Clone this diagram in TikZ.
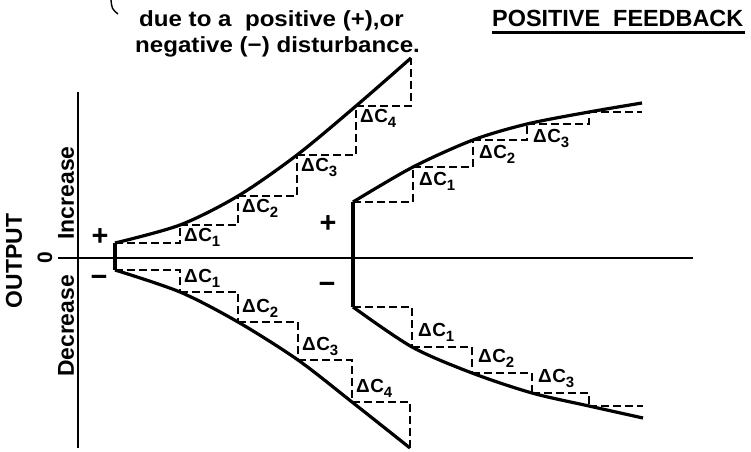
\documentclass[tikz,border=0pt]{standalone}
\usepackage{fontspec}
\setmainfont{Liberation Sans}
\newfontfamily\notefont[FakeStretch=1.1]{Liberation Sans}
\usetikzlibrary{positioning}

\newcommand{\dC}[1]{Δ\kern.5bp C\raisebox{-5bp}{\fontsize{15}{15}\selectfont #1}}

\tikzset{
  axisline/.style={line width=2.4bp},
  barline/.style={line width=3.6bp},
  curveline/.style={line width=3.2bp, line join=round},
  stepline/.style={line width=2.2bp, dash pattern=on 8bp off 4bp},
  dclabel/.style={font=\bfseries\fontsize{19}{19}\selectfont, inner sep=0pt},
  signtext/.style={font=\bfseries\fontsize{29}{29}\selectfont, inner sep=0pt},
  axistext/.style={font=\bfseries\fontsize{23}{23}\selectfont, inner sep=0pt, rotate=90},
  notetext/.style={font=\notefont\bfseries\fontsize{22}{26}\selectfont, inner sep=0pt, anchor=base west},
  titletext/.style={font=\bfseries\fontsize{23.5}{24}\selectfont, inner sep=0pt, anchor=base west}
}

\begin{document}
\begin{tikzpicture}[x=1bp, y=-1bp]
  \useasboundingbox (0,0) rectangle (751,452);

  % text at the top
  \draw[line width=1.4bp] (111,0) .. controls (112,9) .. (118,14);
  \node[notetext] (note1) at (139,27) {due to a\ \ positive (+),or};
  \node[notetext] (note2) at (135,53) {negative (−) disturbance.};
  \node[titletext] (title) at (492,27) {POSITIVE\ \ FEEDBACK};
  \draw[line width=2.4bp] ([yshift=-5bp]title.south west) -- ([xshift=2bp, yshift=-5bp]title.south east);

  % axes
  \coordinate (ytop) at (78,92);
  \coordinate (ybot) at (78,448);
  \coordinate (xleft) at (58,258);
  \coordinate (xright) at (693,258);
  \draw[axisline] (ytop) -- (ybot);
  \draw[axisline] (xleft) -- (xright);

  \node[axistext] (outp) at (14,261) {OUTPUT};
  \node[axistext, font=\bfseries\fontsize{21}{21}\selectfont] (zero) at (45,258) {0};
  \node[axistext] (incr) at (66,193) {Increase};
  \node[axistext] (decr) at (66,326) {Decrease};

  % first disturbance
  \foreach \n/\x/\y in {0/115/243, 1/180/225, 2/238/196, 3/297/155, 4/356/106, 5/411/58}
    \coordinate (ul\n) at (\x,\y);
  \foreach \n/\x/\y in {0/115/270, 1/180/292, 2/238/322, 3/298/360, 4/352/402, 5/410/448}
    \coordinate (ll\n) at (\x,\y);
  \draw[barline] (ul0) -- (ll0);
  \draw[curveline] plot[smooth] coordinates {(ul0) (ul1) (ul2) (ul3) (ul4) (ul5)};
  \draw[curveline] plot[smooth] coordinates {(ll0) (ll1) (ll2) (ll3) (ll4) (ll5)};
  \foreach \i/\j in {0/1, 1/2, 2/3, 3/4, 4/5} {
    \draw[stepline] (ul\i) -| (ul\j);
    \draw[stepline] (ll\i) -| (ll\j);
  }
  \foreach \i in {1,...,4} {
    \node[dclabel, anchor=north west] (ulc\i) at ([xshift=4bp, yshift=-3bp]ul\i) {\dC{\i}};
    \node[dclabel, anchor=south west] (llc\i) at ([xshift=4bp, yshift=4bp]ll\i) {\dC{\i}};
  }
  \node[signtext] (lplus) at (100,237) {+};
  \node[signtext] (lminus) at (99,281) {−};

  % second disturbance
  \foreach \n/\x/\y in {0/353/202, 1/413/167, 2/473/140, 3/527/124, 4/589/112, 5/642/103}
    \coordinate (ur\n) at (\x,\y);
  \foreach \n/\x/\y in {0/353/307, 1/412/347, 2/472/373, 3/532/393, 4/589/406, 5/643/418}
    \coordinate (lr\n) at (\x,\y);
  \draw[barline] (ur0) -- (lr0);
  \draw[curveline] plot[smooth] coordinates {(ur0) (ur1) (ur2) (ur3) (ur4) (ur5)};
  \draw[curveline] plot[smooth] coordinates {(lr0) (lr1) (lr2) (lr3) (lr4) (lr5)};
  \foreach \i/\j in {0/1, 1/2, 2/3, 3/4} {
    \draw[stepline] (ur\i) -| (ur\j);
    \draw[stepline] (lr\i) -| (lr\j);
  }
  \draw[stepline] (ur4) -- (ur4 -| ur5);
  \draw[stepline] (lr4) -- (lr4 -| lr5);
  \foreach \i in {1,...,3} {
    \node[dclabel, anchor=north west] (urc\i) at ([xshift=6bp, yshift=-5bp]ur\i) {\dC{\i}};
    \node[dclabel, anchor=south west] (lrc\i) at ([xshift=6bp, yshift=5bp]lr\i) {\dC{\i}};
  }
  \node[signtext] (rplus) at (328,224) {+};
  \node[signtext] (rminus) at (327,288) {−};
\end{tikzpicture}
\end{document}
